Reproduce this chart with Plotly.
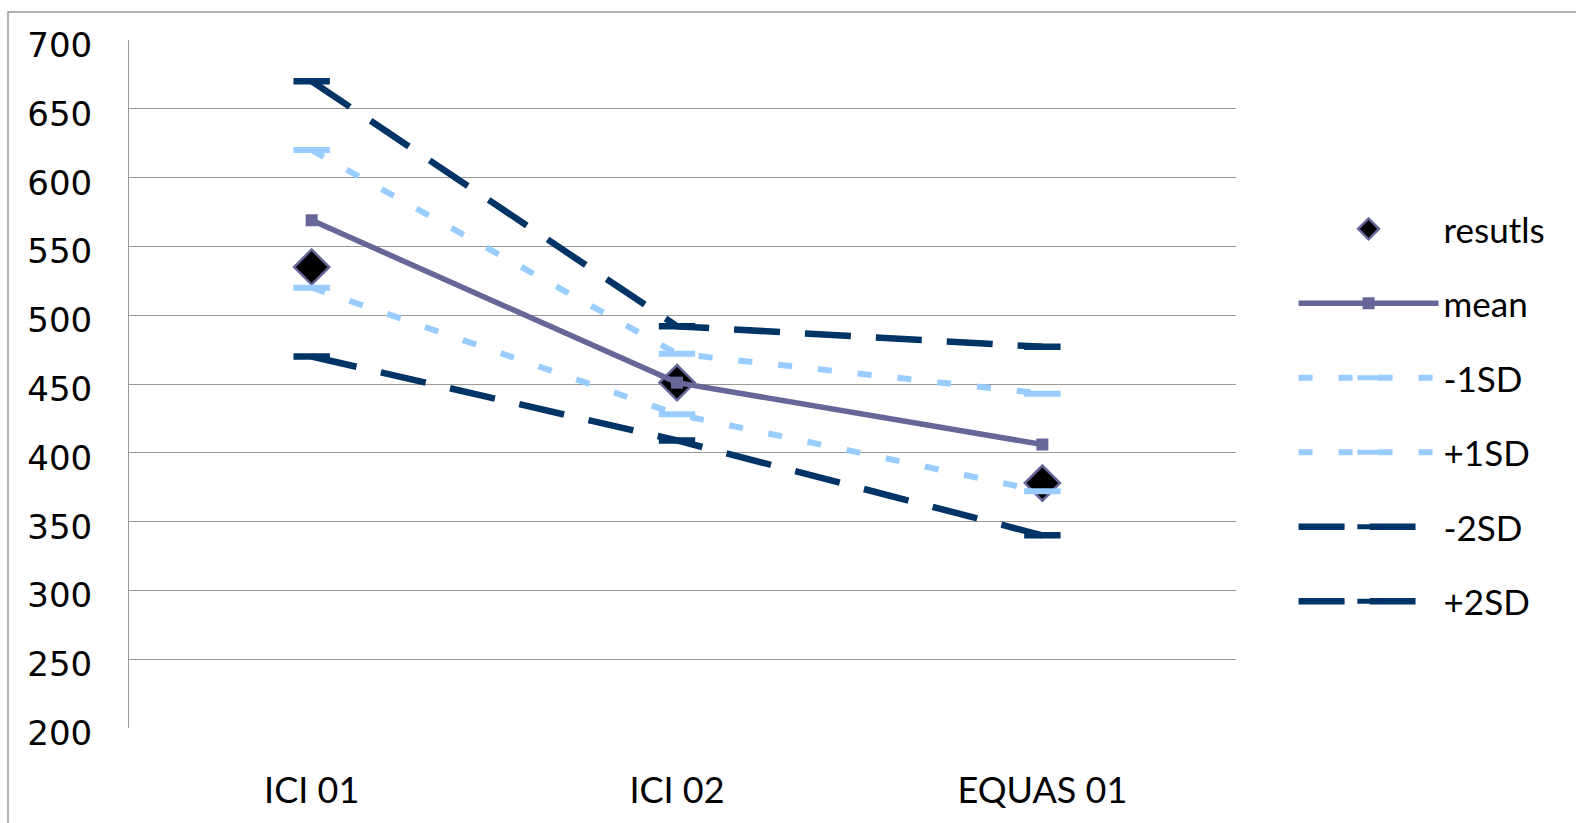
import plotly.graph_objects as go

categories = ["ICI 01", "ICI 02", "EQUAS 01"]
results = [535, 451, 378]
mean = [569, 451, 406]
minus_1sd = [520, 428, 372]
plus_1sd = [620, 472, 443]
minus_2sd = [470, 409, 340]
plus_2sd = [670, 492, 477]
y_ticks = list(range(200, 701, 50))

x = list(range(len(categories)))

LIGHT = "#99CCFF"
DARK = "#003366"
PURPLE = "#666699"

fig = go.Figure()

fig.add_trace(go.Scatter(
    x=x, y=results, name="resutls", mode="markers", legendgroup="a",
    marker=dict(symbol="diamond", size=27, color="black", line=dict(color=PURPLE, width=2.5)),
))
fig.add_trace(go.Scatter(
    x=x, y=mean, name="mean", mode="lines+markers", legendgroup="b",
    line=dict(color=PURPLE, width=5.5),
    marker=dict(symbol="square", size=12, color=PURPLE),
))
for name, vals, color, dash, w, g in [
    ("-1SD", minus_1sd, LIGHT, "14px,26px", 6, "c"),
    ("+1SD", plus_1sd, LIGHT, "14px,26px", 6, "d"),
    ("-2SD", minus_2sd, DARK, "46px,25px", 6.5, "e"),
    ("+2SD", plus_2sd, DARK, "46px,25px", 6.5, "f"),
]:
    fig.add_trace(go.Scatter(
        x=x, y=vals, name=name, mode="lines+markers", legendgroup=g,
        line=dict(color=color, width=w, dash=dash),
        marker=dict(symbol="line-ew", size=26, color=color, line=dict(color=color, width=w)),
    ))

# outer chart border (top and left edges visible)
fig.add_shape(type="rect", xref="paper", yref="paper",
              x0=-0.1093, y0=-0.3, x1=1.6, y1=1.0406,
              line=dict(color="#999999", width=1.5), fillcolor="rgba(0,0,0,0)", layer="below")

fig.update_layout(
    width=1576, height=823,
    margin=dict(l=129, r=340, t=40, b=93),
    plot_bgcolor="white", paper_bgcolor="white",
    showlegend=True,
    legend=dict(x=1.052, y=0.768, xanchor="left", yanchor="top",
                font=dict(family="Lato", size=35, color="black"),
                tracegroupgap=26, itemwidth=140, bgcolor="rgba(0,0,0,0)"),
    xaxis=dict(range=[-0.5, 2.53], tickmode="array", tickvals=x, ticktext=categories,
               showgrid=False, zeroline=False, showline=False,
               tickfont=dict(family="Lato", size=36, color="black"),
               ticks="", ticklabelstandoff=38),
    yaxis=dict(range=[200, 700], tickmode="array", tickvals=y_ticks,
               showgrid=True, gridcolor="#999999", gridwidth=1,
               zeroline=False, showline=True, linecolor="#999999", linewidth=1,
               tickfont=dict(family="DejaVu Sans", size=34, color="black"),
               ticks="", ticklabelstandoff=29, ticklabelshift=5),
)

fig.write_html("out.html")
